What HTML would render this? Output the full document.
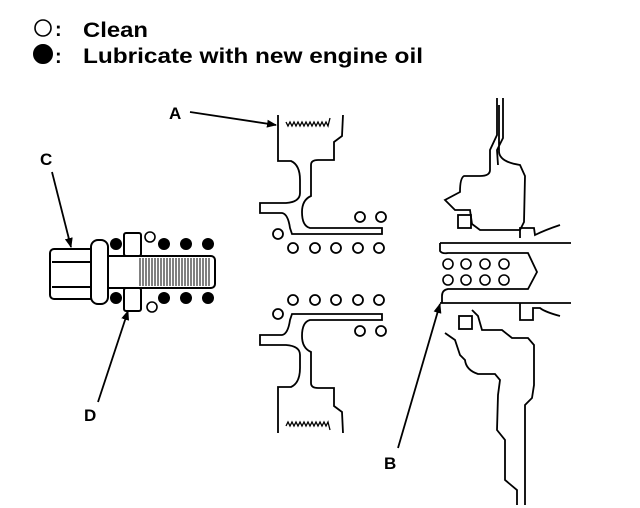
<!DOCTYPE html>
<html><head><meta charset="utf-8"><style>
body{margin:0;background:#fff}
svg{display:block}
text{font-family:"Liberation Sans",Arial,sans-serif;font-weight:bold;fill:#000}
</style></head><body>
<svg width="640" height="508" viewBox="0 0 640 508" xmlns="http://www.w3.org/2000/svg">
<defs>
<marker id="ah" markerWidth="10" markerHeight="8" refX="9" refY="4" orient="auto" markerUnits="userSpaceOnUse">
<path d="M0,0 L10,4 L0,8 z" fill="#000"/></marker>
</defs>
<g fill="none" stroke="#000" stroke-width="2">
<circle cx="43" cy="28" r="8" stroke-width="1.6"/>
<circle cx="43" cy="54" r="9" fill="#000"/>
</g>
<text x="55" y="36" font-size="20">:</text>
<text x="55" y="63" font-size="20">:</text>
<text x="83" y="37" font-size="21" textLength="65" lengthAdjust="spacingAndGlyphs">Clean</text>
<text x="83" y="63" font-size="21" textLength="340" lengthAdjust="spacingAndGlyphs">Lubricate with new engine oil</text>

<!-- labels -->
<text x="169" y="119" font-size="17">A</text>
<text x="40" y="165" font-size="17">C</text>
<text x="84" y="421" font-size="17">D</text>
<text x="384" y="469" font-size="17">B</text>
<g stroke="#000" stroke-width="1.8" fill="none">
<line x1="190" y1="112" x2="276" y2="125" marker-end="url(#ah)"/>
<line x1="52" y1="172" x2="71" y2="247" marker-end="url(#ah)"/>
<line x1="98" y1="402" x2="128" y2="311" marker-end="url(#ah)"/>
<line x1="398" y1="448" x2="440" y2="304" marker-end="url(#ah)"/>
</g>

<!-- bolt -->
<g fill="#fff" stroke="#000" stroke-width="2">
<rect x="50" y="249" width="44" height="50" rx="4"/>
<path d="M52,262 H90 M52,287 H90" fill="none"/>
<rect x="93" y="256" width="122" height="32" rx="4"/>
<rect x="91" y="240" width="17" height="64" rx="7"/>
<rect x="124" y="233" width="17" height="23" rx="2"/>
<rect x="124" y="288" width="17" height="23" rx="2"/>
</g>
<g stroke="#000" stroke-width="1">
<path d="M140,258V286M143,258V286M146,258V286M149,258V286M152,258V286M155,258V286M158,258V286M161,258V286M164,258V286M167,258V286M170,258V286M173,258V286M176,258V286M179,258V286M182,258V286M185,258V286M188,258V286M191,258V286M194,258V286M197,258V286M200,258V286M203,258V286M206,258V286M209,258V286"/>
</g>
<g fill="#000">
<circle cx="116" cy="244" r="6"/><circle cx="164" cy="244" r="6"/><circle cx="186" cy="244" r="6"/><circle cx="208" cy="244" r="6"/>
<circle cx="116" cy="298" r="6"/><circle cx="164" cy="298" r="6"/><circle cx="186" cy="298" r="6"/><circle cx="208" cy="298" r="6"/>
</g>
<g fill="none" stroke="#000" stroke-width="1.6">
<circle cx="150" cy="237" r="5"/><circle cx="152" cy="307" r="5"/>
</g>

<!-- part A top and bottom -->
<g id="pa" fill="none" stroke="#000" stroke-width="1.8">
<path d="M278,115 V161 H291 Q300,165 300,180 V193 Q300,202 286,203 H260 V213 H282 Q288,214 290,228 L292,234 H382 V228 H310 Q302,226 302,212 Q302,200 311,196 V165 Q311,160 318,160 H334 V142 L342,136 L343,115"/>
<path d="M286,122 l2,4 2,-4 2,4 2,-4 2,4 2,-4 2,4 2,-4 2,4 2,-4 2,4 2,-4 2,4 2,-4 2,4 2,-4 2,4 2,-4 2,4 2,-4 2,4 2,-8" stroke-width="1.3"/>
<circle cx="360" cy="217" r="5"/><circle cx="381" cy="217" r="5"/>
<circle cx="278" cy="234" r="5"/>
<circle cx="293" cy="248" r="5"/><circle cx="315" cy="248" r="5"/><circle cx="336" cy="248" r="5"/><circle cx="358" cy="248" r="5"/><circle cx="379" cy="248" r="5"/>
</g>
<use href="#pa" transform="translate(0,548) scale(1,-1)"/>

<!-- right housing -->
<g fill="none" stroke="#000" stroke-width="1.8">
<path d="M440,243 H571 M440,303 H571"/>
<path d="M440,243 V251 Q442,254 448,253 H528 L537,272 L528,289 H448 Q442,290 442,296 V303"/>
<path d="M497,98 V135 L490,150 V170 Q490,176 480,176 H464 Q460,178 460,192 L445,200 L455,210 H470 L472,224 L480,230 H520 L524,222 L525,176 L520,165 Q500,162 499,152 V105 M503,98 V138 L497,150 L498,165"/>
<rect x="458" y="215" width="13" height="13"/>
<path d="M520,238 V228 H534 L535,235 Q545,230 560,225"/>
<path d="M520,303 V320 H533 V308 H540 Q545,312 560,316"/>
<rect x="459" y="316" width="13" height="13"/>
<path d="M445,333 L455,340 L460,355 L465,360 Q466,370 478,374 H495 L500,380 L498,395 L497,430 L505,440 V480 L517,490 V505 M525,505 V405 L532,398 L534,385 V345 L528,338 H512 L502,330 H482 L478,316 L472,310"/>
</g>
<g fill="none" stroke="#000" stroke-width="1.6">
<circle cx="448" cy="264" r="5"/><circle cx="466" cy="264" r="5"/><circle cx="485" cy="264" r="5"/><circle cx="504" cy="264" r="5"/>
<circle cx="448" cy="280" r="5"/><circle cx="466" cy="280" r="5"/><circle cx="485" cy="280" r="5"/><circle cx="504" cy="280" r="5"/>
</g>
</svg>
</body></html>
